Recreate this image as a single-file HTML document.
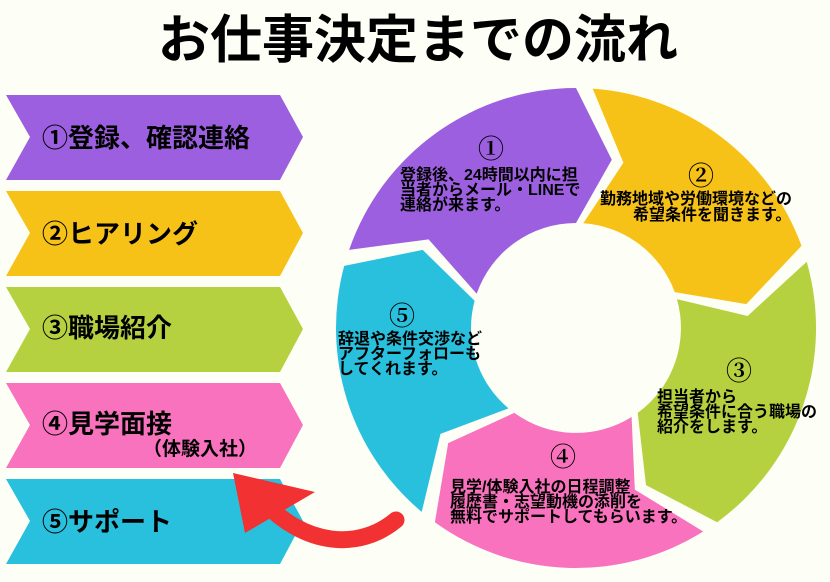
<!DOCTYPE html>
<html><head><meta charset="utf-8"><style>
body{margin:0;width:830px;height:582px;background:#fdfef6;overflow:hidden;position:relative;font-family:"Liberation Sans","Noto Sans CJK JP",sans-serif;}
.t{position:absolute;white-space:nowrap;font-weight:bold;color:#000;}
.n{font-size:26px !important;line-height:28px !important;font-family:'Liberation Serif','Noto Serif CJK SC',serif;font-weight:bold;}
</style></head><body>
<svg width="830" height="582" style="position:absolute;left:0;top:0">
<polygon points="6,95 280,95 303,137 280,180 6,180 30,137" fill="#9c5fdf"/>
<polygon points="6,191 280,191 303,233 280,276 6,276 30,233" fill="#f7c218"/>
<polygon points="6,287 280,287 303,329 280,372 6,372 30,329" fill="#b6d13f"/>
<polygon points="6,383 280,383 303,425 280,468 6,468 30,425" fill="#f872bd"/>
<polygon points="6,479 280,479 303,521 280,564 6,564 30,521" fill="#29c0de"/>
<g id="ring"></g>
<path d="M396,520 C360,550 305,548 260,498" stroke="#f23232" stroke-width="17" fill="none" stroke-linecap="round"/>
<polygon points="233,473 245,533 315,492" fill="#f23232"/>
</svg>
<script>
var cx=576,cy=328,R=240,r=105,m=172,t=12,g=4;
var B=[2,72,146,218,287,362];
var C=["#f7c218","#b6d13f","#f872bd","#29c0de","#9c5fdf"];
function P(rad,a){a=a*Math.PI/180;return (cx+rad*Math.sin(a)).toFixed(1)+","+(cy-rad*Math.cos(a)).toFixed(1);}
var h="";
for(var k=0;k<5;k++){var s=B[k]+g/2,e=B[k+1]-g/2;
var d="M"+P(R,s)+" A"+R+","+R+" 0 0 1 "+P(R,e)+" L"+P(m,e+t)+" L"+P(r,e)+" A"+r+","+r+" 0 0 0 "+P(r,s)+" L"+P(m,s+t)+" Z";
h+='<path d="'+d+'" fill="'+C[k]+'"/>';}
document.getElementById("ring").innerHTML=h;
</script>
<div class="t" style="left:153px;top:10px;font-size:52px;line-height:62px;width:530px;text-align:center;">お仕事決定までの流れ</div>
<div class="t" style="left:42px;top:122px;font-size:26px;line-height:32px;">①登録、確認連絡</div>
<div class="t" style="left:42px;top:218px;font-size:26px;line-height:32px;">②ヒアリング</div>
<div class="t" style="left:42px;top:312px;font-size:26px;line-height:32px;">③職場紹介</div>
<div class="t" style="left:42px;top:408px;font-size:26px;line-height:32px;">④見学面接</div>
<div class="t" style="left:143px;top:438px;font-size:19px;line-height:24px;">（体験入社）</div>
<div class="t" style="left:42px;top:506px;font-size:26px;line-height:32px;">⑤サポート</div>
<div style="position:absolute;font-size:16px;line-height:15px;font-weight:bold;">
<div class="t n" style="left:478px;top:136px;">①</div>
<div class="t" style="left:400px;top:168px;">登録後、24時間以内に担<br>当者からメール・LINEで<br>連絡が来ます。</div>
<div class="t n" style="left:688px;top:163px;">②</div>
<div class="t" style="left:600px;top:192px;">勤務地域や労働環境などの</div>
<div class="t" style="left:633px;top:208px;">希望条件を聞きます。</div>
<div class="t n" style="left:726px;top:358px;">③</div>
<div class="t" style="left:657px;top:390px;">担当者から<br>希望条件に合う職場の<br>紹介をします。</div>
<div class="t n" style="left:550px;top:444px;">④</div>
<div class="t" style="left:450px;top:480px;">見学/体験入社の日程調整<br>履歴書・志望動機の添削を<br>無料でサポートしてもらいます。</div>
<div class="t n" style="left:389px;top:303px;">⑤</div>
<div class="t" style="left:338px;top:332px;">辞退や条件交渉など<br>アフターフォローも<br>してくれます。</div>
</div>
</body></html>
